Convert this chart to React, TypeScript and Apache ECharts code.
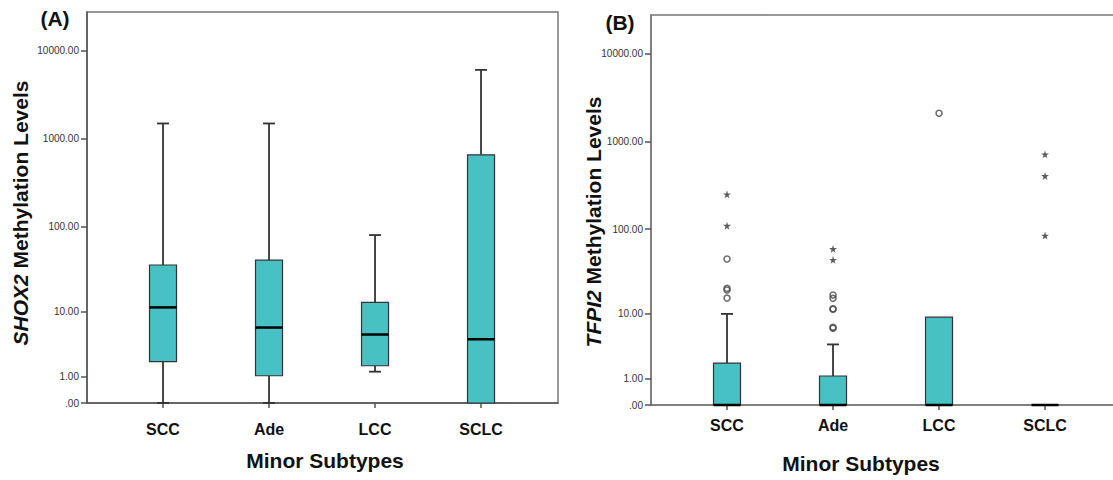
import React, { useEffect, useRef } from "react";
import * as echarts from "echarts";

// Lung cancer minor subtypes
const categories = ["SCC", "Ade", "LCC", "SCLC"];

// SHOX2 methylation: five-number summaries per subtype
const shox2Min = [0, 0, 1.27, 0];
const shox2Q1 = [1.95, 1.04, 1.65, 0];
const shox2Median = [11.2, 6.2, 5.0, 4.3];
const shox2Q3 = [36, 41, 12.9, 660];
const shox2Max = [1500, 1500, 80, 6100];

// TFPI2 methylation: five-number summaries per subtype
const tfpi2Min = [0, 0, 0, 0];
const tfpi2Q1 = [0, 0, 0, 0];
const tfpi2Median = [0, 0, 0, 0];
const tfpi2Q3 = [2.0, 1.14, 9.0, 0];
const tfpi2Max = [9.9, 3.9, 9.0, 0];

// TFPI2 outliers (circles) and extremes (stars): [subtype index, value]
const tfpi2Outliers = [
  [0, 45], [0, 20.3], [0, 19.4], [0, 15.5],
  [1, 16.9], [1, 15.4], [1, 11.5], [1, 11.3], [1, 6.7], [1, 6.5],
  [2, 2100],
];
const tfpi2Extremes = [
  [0, 250], [0, 109],
  [1, 59], [1, 44],
  [3, 715], [3, 405], [3, 84],
];

// Axis tick values (drawn on a log10(x + 1) scale)
const yTicks = [0, 1, 10, 100, 1000, 10000];

const tf = (v: number) => Math.log10(v + 1);
const fmtTick = (t: number) => {
  const v = Math.round(Math.pow(10, t) - 1);
  return v === 0 ? ".00" : v.toFixed(2);
};

const BOX_FILL = "#47C1C4";
const LINE = "#333";
const FONT = "Arial, 'Liberation Sans', Helvetica, sans-serif";
const STAR =
  "path://M50,0 L61,35 L98,35 L68,57 L79,91 L50,70 L21,91 L32,57 L2,35 L39,35 Z";
const X_MIN = -0.717;
const X_MAX = 3.726;

function boxRows(mins: number[], q1: number[], med: number[], q3: number[], max: number[]) {
  return categories.map((_, i) => [i, tf(mins[i]), tf(q1[i]), tf(med[i]), tf(q3[i]), tf(max[i])]);
}

function renderBox(params: any, api: any) {
  const i = api.value(0);
  const vMin = api.value(1);
  const vQ1 = api.value(2);
  const vMed = api.value(3);
  const vQ3 = api.value(4);
  const vMax = api.value(5);
  const x = api.coord([i, vMed])[0];
  const y = (v: number) => api.coord([i, v])[1];
  const half = 13.5;
  const cap = 6;
  const children: any[] = [];
  const wStyle = { stroke: LINE, lineWidth: 1.8 };
  if (vMax > vQ3 + 1e-9) {
    children.push({ type: "line", shape: { x1: x, y1: y(vQ3), x2: x, y2: y(vMax) }, style: wStyle });
    children.push({ type: "line", shape: { x1: x - cap, y1: y(vMax), x2: x + cap, y2: y(vMax) }, style: wStyle });
  }
  if (vMin < vQ1 - 1e-9) {
    children.push({ type: "line", shape: { x1: x, y1: y(vQ1), x2: x, y2: y(vMin) }, style: wStyle });
    children.push({ type: "line", shape: { x1: x - cap, y1: y(vMin), x2: x + cap, y2: y(vMin) }, style: wStyle });
  }
  if (vQ3 > vQ1 + 1e-9) {
    children.push({
      type: "rect",
      shape: { x: x - half, y: y(vQ3), width: half * 2, height: y(vQ1) - y(vQ3) },
      style: { fill: BOX_FILL, stroke: LINE, lineWidth: 1.2 },
    });
  }
  children.push({
    type: "line",
    shape: { x1: x - half, y1: y(vMed), x2: x + half, y2: y(vMed) },
    style: { stroke: "#000", lineWidth: 2.5 },
  });
  return { type: "group", children };
}

function xAxisFor(gridIndex: number, margin: number) {
  return {
    type: "value",
    gridIndex,
    min: X_MIN,
    max: X_MAX,
    axisLine: { show: true, onZero: false, lineStyle: { color: "#555", width: 1.5 } },
    axisTick: { show: true, customValues: [0, 1, 2, 3], length: 5, lineStyle: { color: "#555", width: 1.5 } },
    axisLabel: {
      customValues: [0, 1, 2, 3],
      formatter: (v: number) => categories[Math.round(v)] ?? "",
      fontFamily: FONT,
      fontWeight: "bold",
      fontSize: 16,
      color: "#111",
      margin,
    },
    splitLine: { show: false },
  };
}

// Plain frame line along the top edge of a panel
function topFrame(gridIndex: number) {
  return {
    type: "value",
    gridIndex,
    position: "top",
    min: X_MIN,
    max: X_MAX,
    axisLine: { show: true, onZero: false, lineStyle: { color: "#777", width: 1.5 } },
    axisTick: { show: false },
    axisLabel: { show: false },
    splitLine: { show: false },
  };
}

function yAxisFor(gridIndex: number, max: number) {
  const vals = yTicks.map(tf);
  return {
    type: "value",
    gridIndex,
    min: 0,
    max,
    axisLine: { show: true, onZero: false, lineStyle: { color: "#555", width: 1.5 } },
    axisTick: { show: true, customValues: vals, length: 6, lineStyle: { color: "#555", width: 1.5 } },
    axisLabel: {
      customValues: vals,
      formatter: (v: number) => fmtTick(v),
      fontFamily: FONT,
      fontSize: 10,
      color: "#333",
      margin: 8,
    },
    splitLine: { show: false },
  };
}

export default function App() {
  const ref = useRef<HTMLDivElement>(null);

  useEffect(() => {
    if (!ref.current) return;
    const chart = echarts.init(ref.current, null, { renderer: "svg" });
    const titleStyle = { fontFamily: FONT, fontWeight: "bold", fontSize: 21, fill: "#111" };

    chart.setOption({
      animation: false,
      backgroundColor: "#fff",
      grid: [
        { left: 87, top: 12, width: 471, height: 391, outerBoundsMode: "none", show: true, borderColor: "#777", borderWidth: 1.5, backgroundColor: "transparent" },
        { left: 651, top: 15, width: 471, height: 390, outerBoundsMode: "none", show: false },
      ],
      xAxis: [xAxisFor(0, 18), xAxisFor(1, 12), topFrame(1)],
      yAxis: [yAxisFor(0, 4.443), yAxisFor(1, 4.442)],
      series: [
        {
          type: "custom",
          xAxisIndex: 0,
          yAxisIndex: 0,
          renderItem: renderBox,
          encode: { x: 0, y: [1, 2, 3, 4, 5] },
          data: boxRows(shox2Min, shox2Q1, shox2Median, shox2Q3, shox2Max),
          clip: false,
        },
        {
          type: "custom",
          xAxisIndex: 1,
          yAxisIndex: 1,
          renderItem: renderBox,
          encode: { x: 0, y: [1, 2, 3, 4, 5] },
          data: boxRows(tfpi2Min, tfpi2Q1, tfpi2Median, tfpi2Q3, tfpi2Max),
          clip: false,
        },
        {
          type: "scatter",
          xAxisIndex: 1,
          yAxisIndex: 1,
          symbol: "circle",
          symbolSize: 6,
          itemStyle: { color: "rgba(0,0,0,0)", borderColor: "#444", borderWidth: 1.5 },
          data: tfpi2Outliers.map(([i, v]) => [i, tf(v)]),
        },
        {
          type: "scatter",
          xAxisIndex: 1,
          yAxisIndex: 1,
          symbol: STAR,
          symbolSize: 8,
          itemStyle: { color: "#333" },
          data: tfpi2Extremes.map(([i, v]) => [i, tf(v)]),
        },
      ],
      graphic: [
        { type: "text", x: 55, y: 18, style: { ...titleStyle, text: "(A)", textAlign: "center", textVerticalAlign: "middle" } },
        { type: "text", x: 620, y: 22, style: { ...titleStyle, text: "(B)", textAlign: "center", textVerticalAlign: "middle" } },
        { type: "text", x: 325, y: 460, style: { ...titleStyle, text: "Minor Subtypes", textAlign: "center", textVerticalAlign: "middle" } },
        { type: "text", x: 861, y: 463, style: { ...titleStyle, text: "Minor Subtypes", textAlign: "center", textVerticalAlign: "middle" } },
        {
          type: "text",
          x: 20,
          y: 213,
          rotation: Math.PI / 2,
          style: {
            ...titleStyle,
            text: "{i|SHOX2} Methylation Levels",
            rich: { i: { fontFamily: FONT, fontWeight: "bold", fontStyle: "italic", fontSize: 21, fill: "#111" } },
            textAlign: "center",
            textVerticalAlign: "middle",
          },
        },
        {
          type: "text",
          x: 593,
          y: 222,
          rotation: Math.PI / 2,
          style: {
            ...titleStyle,
            text: "{i|TFPI2} Methylation Levels",
            rich: { i: { fontFamily: FONT, fontWeight: "bold", fontStyle: "italic", fontSize: 21, fill: "#111" } },
            textAlign: "center",
            textVerticalAlign: "middle",
          },
        },
      ],
    });

    return () => chart.dispose();
  }, []);

  // The chart surface is wider than the visible area so panel B runs past the right edge.
  return (
    <div style={{ position: "absolute", left: 0, top: 0, width: 1113, height: 480, overflow: "hidden" }}>
      <div ref={ref} style={{ width: 1140, height: 480 }} />
    </div>
  );
}
